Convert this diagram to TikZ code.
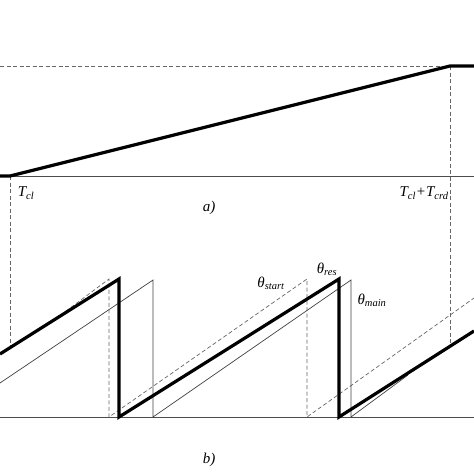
\documentclass[tikz,border=0pt]{standalone}
\usepackage{fontspec}
\setmainfont{Liberation Serif}
\begin{document}
\begin{tikzpicture}[x=1pt,y=-1pt,
  thickln/.style={line width=3.2pt,black,line join=miter},
  thinln/.style={line width=0.7pt,black!75},
  dashln/.style={line width=0.7pt,black!60,dash pattern=on 4pt off 2.5pt},
  axisln/.style={line width=1pt,black!70},
  lbl/.style={font=\fontsize{15}{17}\selectfont\itshape,inner sep=0pt}]
\useasboundingbox (0,0) rectangle (474,474);
% ---- panel a ----
\coordinate (a0) at (0,176);
\coordinate (a1) at (10,176);
\coordinate (a2) at (450,66);
\coordinate (a3) at (474,66);
\coordinate (d0) at (0,66);
\draw[dashln] (d0) -- (a2);
\draw[axisln] (0,176) -- (474,176);
\draw[dashln] (a1) -- (10,348);
\draw[dashln] (a2) -- (450,347);
\draw[thickln] (a0) -- (a1) -- (a2) -- (a3);
\node[lbl] (tcl) at (26,193) {T\textsubscript{cl}};
\node[lbl] (tcrd) at (424,193) {T\textsubscript{cl}+T\textsubscript{crd}};
\node[lbl] (la) at (209,208) {a)};
% ---- panel b ----
\draw[axisln] (0,417) -- (474,417);
% dashed (theta start)
\draw[dashln] (50,323) -- (109,279) -- (109,417) -- (307,279) -- (307,417) -- (474,298);
% thin (theta main)
\draw[thinln] (0,383) -- (153,280) -- (153,417) -- (351,280) -- (351,417) -- (408,375);
% thick (theta res)
\draw[thickln] (0,354) -- (119,279) -- (119,417) -- (339,279) -- (339,417) -- (474,331);
\node[lbl] (ts) at (271,283) {θ\textsubscript{start}};
\node[lbl] (tr) at (327,269) {θ\textsubscript{res}};
\node[lbl] (tm) at (372,300) {θ\textsubscript{main}};
\node[lbl] (lb) at (209,460) {b)};
\end{tikzpicture}
\end{document}
